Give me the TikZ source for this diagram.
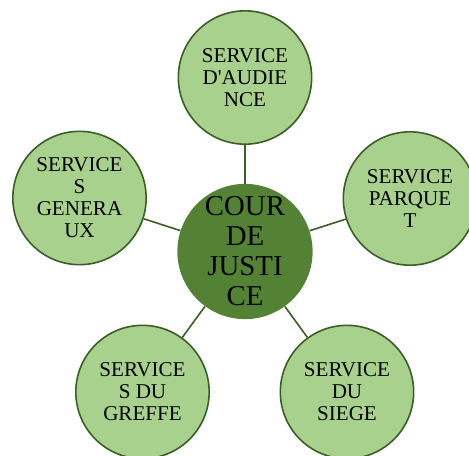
\documentclass[tikz,border=0pt]{standalone}
\usepackage{fontspec}
\setmainfont{Liberation Serif}

\definecolor{leafgreen}{HTML}{A9D18E}
\definecolor{darkleaf}{HTML}{548235}
\definecolor{rimgreen}{HTML}{3B5E27}

\begin{document}
\begin{tikzpicture}[
    svc/.style={circle, draw=rimgreen, line width=1.2pt, fill=leafgreen, minimum size=100pt, inner sep=0pt, align=center, font=\fontsize{15.8}{16.5}\selectfont},
    hub/.style={circle, fill=darkleaf, minimum size=99pt, inner sep=0pt, align=center, font=\fontsize{21.6}{22.5}\selectfont},
    link/.style={draw=rimgreen, line width=1.2pt},
    x=0.75pt, y=-0.75pt
]
\useasboundingbox (0,0) rectangle (469,455);
\clip (0,0) rectangle (469,455);
\node[hub] (cour) at (245,251.5) {COUR\\DE\\JUSTI\\CE};
\node[svc] (audience) at (245,77.5) {SERVICE\\D\textquotesingle AUDIE\\NCE};
\node[svc] (parquet) at (410,198.5) {SERVICE\\PARQUE\\T};
\node[svc] (generaux) at (79.5,198) {SERVICE\\S\\GENERA\\UX};
\node[svc] (greffe) at (142.5,392) {SERVICE\\S DU\\GREFFE};
\node[svc] (siege) at (347,392) {SERVICE\\DU\\SIEGE};
\draw[link] (cour) -- (audience);
\draw[link] (cour) -- (parquet);
\draw[link] (cour) -- (generaux);
\draw[link] (cour) -- (greffe);
\draw[link] (cour) -- (siege);
\end{tikzpicture}
\end{document}
